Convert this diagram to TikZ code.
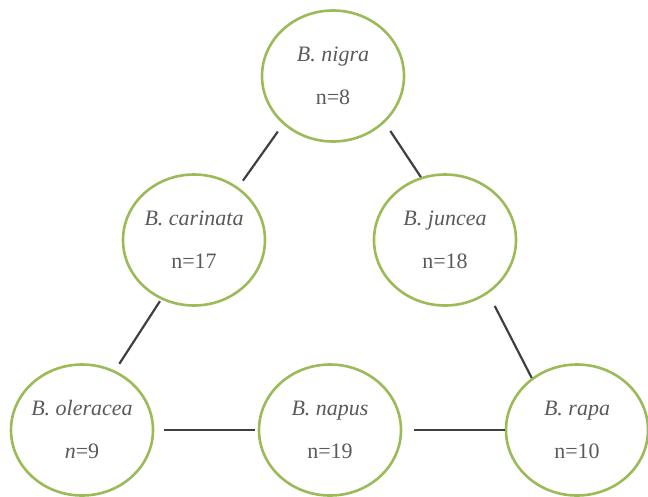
\documentclass[tikz,border=0pt]{standalone}
\usepackage{fontspec}
\setmainfont{Liberation Serif}
\usepackage{tikz}
\usetikzlibrary{shapes.geometric}
\definecolor{leafgreen}{RGB}{155,187,89}
\definecolor{textgray}{RGB}{90,90,90}
\definecolor{linegray}{RGB}{64,64,64}
\tikzstyle{species} = [draw=leafgreen, line width=2.6pt, ellipse, minimum width=142pt, minimum height=131pt, inner sep=0pt]
\tikzstyle{sptext} = [anchor=base, inner sep=0pt, text=textgray, font=\fontsize{22}{26}\selectfont]
\tikzstyle{line} = [draw, line width=2.2pt, color=linegray]
\newcommand{\species}[4]{
  \node (#1) [species] at (#2) {};
  \node (#1name) [sptext, yshift=15pt] at (#1) {\textit{#3}};
  \node (#1num) [sptext, yshift=-28pt] at (#1) {#4};}
\newcommand{\link}[4]{
  \path [line, shorten <=#3, shorten >=#4] (#1) -- (#2);}
\begin{document}
\begin{tikzpicture}[x=1pt, y=-1pt]
		\useasboundingbox (0,0) rectangle (648,496);
		
		% Draw the six species
		\species{nigra}{333,76}{B. nigra}{n=8}
		\species{carinata}{194,240}{B. carinata}{n=17}
		\species{juncea}{445,240}{B. juncea}{n=18}
		\species{oleracea}{82,430}{B. oleracea}{\textit{n}=9}
		\species{napus}{330,430}{B. napus}{n=19}
		\species{rapa}{577,430}{B. rapa}{n=10}
		
		% Draw lines between species
		\link{nigra.224}{carinata.50}{9pt}{8pt}
		\link{nigra.318}{juncea.111}{10pt}{0pt}
		\link{carinata.241}{oleracea.61}{2pt}{8pt}
		\link{juncea.309}{rapa.131}{14pt}{0pt}
		\link{oleracea.east}{napus.west}{10pt}{3pt}
		\link{napus.east}{rapa.west}{12pt}{0pt}
		
	\end{tikzpicture}
\end{document}
